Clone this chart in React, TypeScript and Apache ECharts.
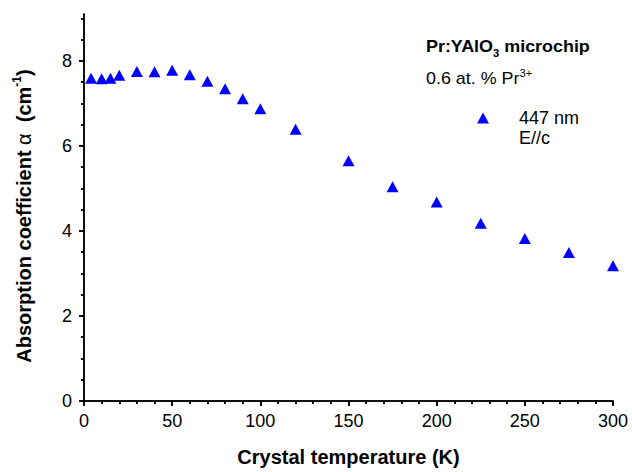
import React, { useEffect, useRef } from "react";
import * as echarts from "echarts";

// Absorption coefficient of Pr:YAlO3 at 447 nm (E//c) versus crystal temperature
const temperatureK = [4, 10, 15, 20, 30, 40, 50, 60, 70, 80, 90, 100, 120, 150, 175, 200, 225, 250, 275, 300];
const alphaCm = [7.59, 7.58, 7.59, 7.66, 7.75, 7.74, 7.78, 7.67, 7.52, 7.34, 7.11, 6.87, 6.39, 5.65, 5.04, 4.68, 4.18, 3.82, 3.49, 3.18];

const xMajorTicks = [0, 50, 100, 150, 200, 250, 300];
const xMinorTicks = [10, 20, 30, 40, 60, 70, 80, 90, 110, 120, 130, 140, 160, 170, 180, 190, 210, 220, 230, 240, 260, 270, 280, 290];
const yMajorTicks = [0, 2, 4, 6, 8];
const yMinorTicks = [0.5, 1, 1.5, 2.5, 3, 3.5, 4.5, 5, 5.5, 6.5, 7, 7.5, 8.5, 9];

const FONT = "'Liberation Sans', Arial, sans-serif";
const LINE = { show: true, lineStyle: { color: "#000", width: 1.5 } };

function xAxisDef(position: "bottom" | "top", major: boolean, inside: boolean, labels: boolean) {
  return {
    type: "value",
    position,
    min: 0,
    max: 300,
    axisLine: major ? LINE : { show: false },
    axisTick: {
      show: true,
      inside,
      length: major ? 5 : 3,
      customValues: major ? xMajorTicks : xMinorTicks,
      lineStyle: { color: "#000", width: 1.5 },
    },
    axisLabel: labels
      ? { show: true, customValues: xMajorTicks, color: "#000", fontSize: 18, fontFamily: FONT, margin: 11 }
      : { show: false },
    splitLine: { show: false },
    ...(labels
      ? {
          name: "Crystal temperature (K)",
          nameLocation: "middle",
          nameGap: 46,
          nameTextStyle: { color: "#000", fontSize: 20, fontWeight: "bold", fontFamily: FONT },
        }
      : {}),
  };
}

function yAxisDef(position: "left" | "right", major: boolean, inside: boolean, labels: boolean) {
  return {
    type: "value",
    position,
    min: 0,
    max: 9.1,
    axisLine: major ? LINE : { show: false },
    axisTick: {
      show: true,
      inside,
      length: major ? 5 : 3,
      customValues: major ? yMajorTicks : yMinorTicks,
      lineStyle: { color: "#000", width: 1.5 },
    },
    axisLabel: labels
      ? { show: true, customValues: yMajorTicks, color: "#000", fontSize: 18, fontFamily: FONT, margin: 12 }
      : { show: false },
    splitLine: { show: false },
  };
}

export default function App() {
  const ref = useRef<HTMLDivElement>(null);

  useEffect(() => {
    if (!ref.current) return;
    const chart = echarts.init(ref.current, null, { renderer: "svg" });

    chart.setOption({
      animation: false,
      backgroundColor: "#fff",
      textStyle: { fontFamily: FONT },
      grid: { left: 84, right: 19, top: 14, bottom: 70, containLabel: false },
      xAxis: [
        xAxisDef("bottom", true, false, true),
        xAxisDef("bottom", false, false, false),
        xAxisDef("top", true, true, false),
        xAxisDef("top", false, true, false),
      ],
      yAxis: [
        yAxisDef("left", true, false, true),
        yAxisDef("left", false, false, false),
        yAxisDef("right", true, true, false),
        yAxisDef("right", false, true, false),
      ],
      legend: {
        show: true,
        left: 477,
        top: 109,
        padding: 0,
        icon: "triangle",
        itemWidth: 12,
        itemHeight: 11,
        selectedMode: false,
        data: ["447 nm"],
        textStyle: {
          color: "#000",
          fontSize: 18,
          fontFamily: FONT,
          padding: [3, 0, 0, 25],
        },
      },
      graphic: [
        {
          type: "text",
          x: 426,
          y: 47,
          scaleX: 1.12,
          style: {
            text: "{b|Pr:YAlO}{sub|3}{b| microchip}",
            verticalAlign: "middle",
            align: "left",
            rich: {
              b: { fontSize: 16, fontWeight: "bold", fontFamily: FONT, fill: "#000", lineHeight: 22 },
              sub: { fontSize: 10, fontWeight: "bold", fontFamily: FONT, fill: "#000", lineHeight: 11, verticalAlign: "bottom" },
            },
          },
        },
        {
          type: "text",
          x: 426,
          y: 79,
          scaleX: 1.12,
          style: {
            text: "{n|0.6 at. % Pr}{sup|3+}",
            verticalAlign: "middle",
            align: "left",
            rich: {
              n: { fontSize: 16, fontFamily: FONT, fill: "#000", lineHeight: 22 },
              sup: { fontSize: 10, fontFamily: FONT, fill: "#000", lineHeight: 11, verticalAlign: "top" },
            },
          },
        },
        {
          type: "text",
          x: 519,
          y: 138,
          style: {
            text: "E//c",
            fontSize: 18,
            fontFamily: FONT,
            fill: "#000",
            align: "left",
            verticalAlign: "middle",
          },
        },
        {
          type: "text",
          x: 24,
          y: 216,
          rotation: Math.PI / 2,
          style: {
            text: "{b|Absorption coefficient }{g|α}{b|  (cm}{sup|-1}{b|)}",
            align: "center",
            verticalAlign: "middle",
            rich: {
              b: { fontSize: 20, fontWeight: "bold", fontFamily: FONT, fill: "#000", lineHeight: 26 },
              g: { fontSize: 20, fontFamily: FONT, fill: "#000", lineHeight: 26 },
              sup: { fontSize: 12, fontWeight: "bold", fontFamily: FONT, fill: "#000", lineHeight: 13, verticalAlign: "top" },
            },
          },
        },
      ],
      series: [
        {
          name: "447 nm",
          type: "scatter",
          xAxisIndex: 0,
          yAxisIndex: 0,
          symbol: "triangle",
          symbolSize: [12, 11],
          itemStyle: { color: "#0000ff", opacity: 1 },
          clip: false,
          data: temperatureK.map((t, i) => [t, alphaCm[i]]),
        },
      ],
    });

    return () => chart.dispose();
  }, []);

  return (
    <div
      ref={ref}
      style={{ position: "fixed", left: 0, top: 0, width: 632, height: 472, background: "#fff" }}
    />
  );
}
